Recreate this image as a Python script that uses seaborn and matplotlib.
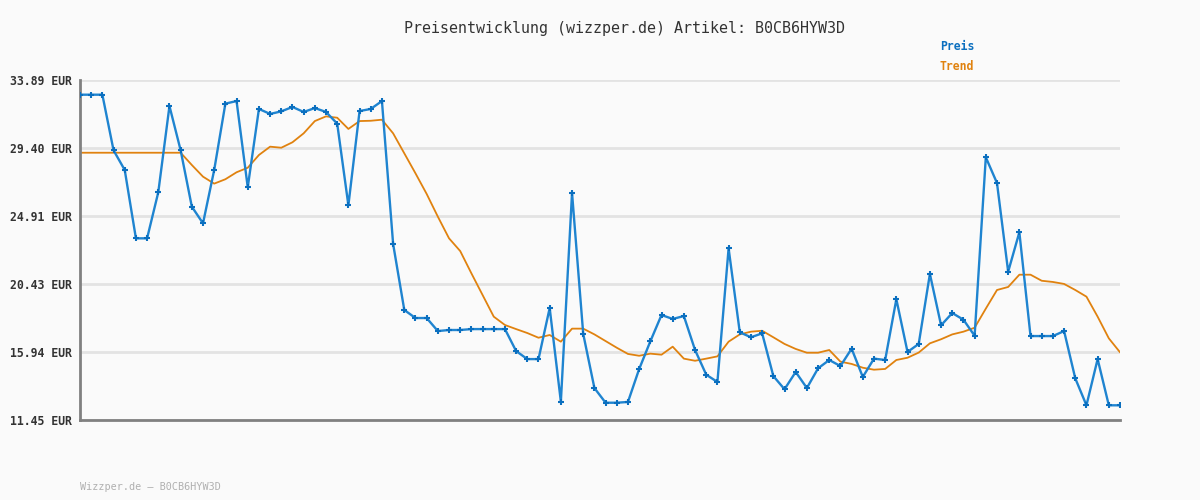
import matplotlib
matplotlib.use("Agg")
import matplotlib.pyplot as plt
import seaborn as sns
import pandas as pd
import numpy as np

# ---- data ----
preis = [32.92, 32.92, 32.92, 29.25, 27.95, 23.44, 23.44, 26.48, 32.17, 29.25,
         25.53, 24.43, 27.95, 32.33, 32.50, 26.81, 31.98, 31.65, 31.82, 32.11,
         31.78, 32.04, 31.78, 31.01, 25.62, 31.84, 31.98, 32.50, 23.07, 18.71,
         18.18, 18.18, 17.32, 17.39, 17.39, 17.45, 17.45, 17.45, 17.45, 16.00,
         15.47, 15.47, 18.84, 12.66, 26.43, 17.13, 13.56, 12.59, 12.59, 12.64,
         14.81, 16.64, 18.38, 18.12, 18.31, 16.07, 14.44, 13.96, 22.78, 17.24,
         16.91, 17.17, 14.35, 13.48, 14.62, 13.56, 14.86, 15.41, 15.01, 16.16,
         14.29, 15.50, 15.41, 19.42, 15.94, 16.47, 21.09, 17.70, 18.51, 18.07,
         17.01, 28.79, 27.09, 21.24, 23.84, 16.99, 16.99, 16.99, 17.32, 14.20,
         12.42, 15.47, 12.42, 12.42]
trend = [29.09, 29.09, 29.09, 29.09, 29.09, 29.09, 29.09, 29.09, 29.09, 29.09,
         28.28, 27.51, 27.05, 27.34, 27.80, 28.10, 28.94, 29.49, 29.42, 29.78,
         30.37, 31.18, 31.49, 31.40, 30.66, 31.18, 31.20, 31.27, 30.37, 29.05,
         27.73, 26.37, 24.87, 23.44, 22.60, 21.13, 19.70, 18.27, 17.72, 17.45,
         17.19, 16.88, 17.06, 16.62, 17.48, 17.48, 17.10, 16.66, 16.22, 15.81,
         15.69, 15.83, 15.76, 16.29, 15.50, 15.36, 15.50, 15.65, 16.62, 17.10,
         17.28, 17.34, 16.91, 16.47, 16.14, 15.89, 15.89, 16.07, 15.30, 15.15,
         14.90, 14.77, 14.82, 15.41, 15.56, 15.90, 16.51, 16.78, 17.10, 17.28,
         17.54, 18.80, 20.03, 20.23, 21.04, 21.04, 20.64, 20.56, 20.43, 20.03,
         19.59, 18.27, 16.84, 15.92]
yticks = [11.45, 15.94, 20.43, 24.91, 29.40, 33.89]
ytick_labels = ["11.45 EUR", "15.94 EUR", "20.43 EUR", "24.91 EUR", "29.40 EUR", "33.89 EUR"]
title = "Preisentwicklung (wizzper.de) Artikel: B0CB6HYW3D"
footer = "Wizzper.de – B0CB6HYW3D"

BLUE = "#1f84d0"
BLUE_M = "#0b6fbf"
ORANGE = "#e0820f"
BG = "#fafafa"
MONO = "DejaVu Sans Mono"

df = pd.DataFrame({"idx": np.arange(len(preis)), "Preis": preis, "Trend": trend})

sns.set_style("white")
fig = plt.figure(figsize=(12, 5), dpi=100, facecolor=BG)
ax = fig.add_axes([80/1200, 80/500, 1040/1200, 340/500])
ax.set_facecolor(BG)

for y in yticks:
    ax.axhline(y, color="#e3e3e3", lw=2, zorder=0)

sns.lineplot(data=df, x="idx", y="Trend", ax=ax, color=ORANGE, lw=1.3, zorder=2)
sns.lineplot(data=df, x="idx", y="Preis", ax=ax, color=BLUE, lw=1.7, zorder=3,
             marker="+", markersize=4, markeredgewidth=1.5, markeredgecolor=BLUE_M)

ax.set_xlim(0, len(preis) - 1)
ax.set_ylim(yticks[0], yticks[-1])
ax.set_yticks(yticks)
ax.set_yticklabels(ytick_labels, fontfamily=MONO, fontweight="bold", fontsize=8.3, color="#333333")
ax.set_xticks([])
ax.set_xlabel("")
ax.set_ylabel("")
ax.tick_params(axis="y", length=0, pad=6)
for s in ["top", "right"]:
    ax.spines[s].set_visible(False)
for s in ["left", "bottom"]:
    ax.spines[s].set_color("#808080")
    ax.spines[s].set_linewidth(2)
ax.get_legend() and ax.get_legend().remove()

fig.text(624/1200, 1 - 28/500, title, ha="center", va="center", fontfamily=MONO,
         fontsize=10.8, color="#333333")
fig.text(940/1200, 1 - 47/500, "Preis", ha="left", va="center", fontfamily=MONO,
         fontsize=8.3, fontweight="bold", color=BLUE_M)
fig.text(940/1200, 1 - 67/500, "Trend", ha="left", va="center", fontfamily=MONO,
         fontsize=8.3, fontweight="bold", color=ORANGE)
fig.text(80/1200, 1 - 487/500, footer, ha="left", va="center", fontfamily=MONO,
         fontsize=7.3, color="#b0b0b0")

fig.savefig("out.png", dpi=100, facecolor=BG)
